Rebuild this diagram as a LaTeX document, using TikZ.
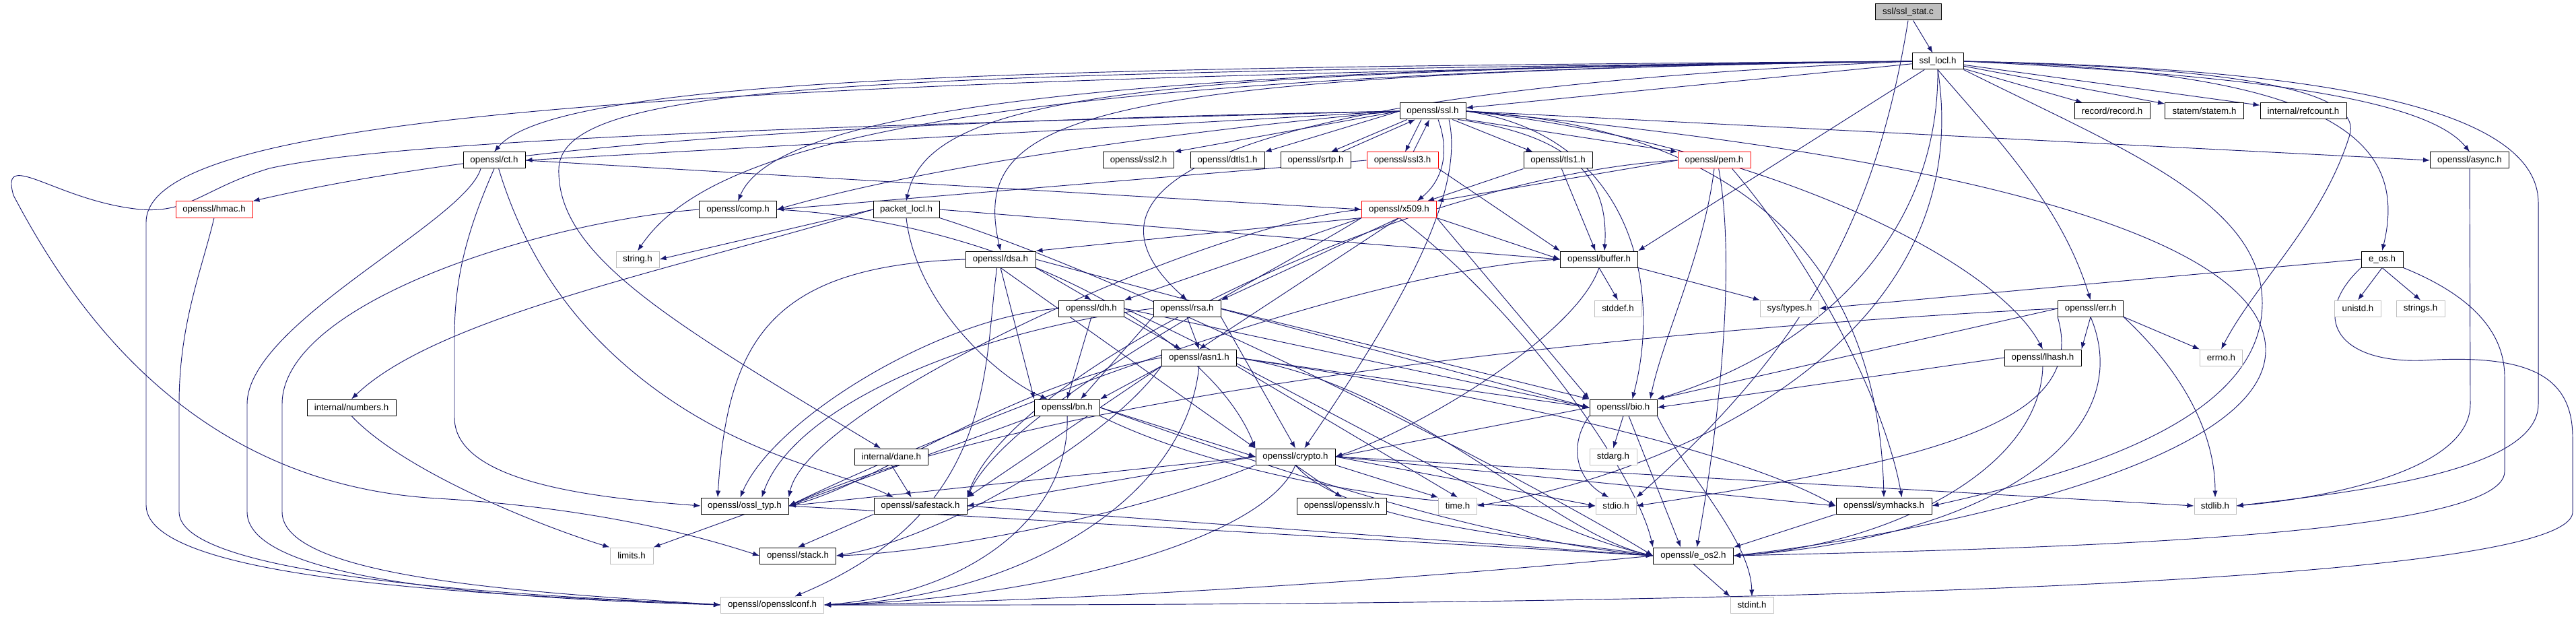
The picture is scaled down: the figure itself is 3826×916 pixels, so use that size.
\documentclass[tikz,border=0pt]{standalone}
\usepackage{fontspec}
\setmainfont{Liberation Sans}
\usetikzlibrary{arrows.meta}
\definecolor{navy}{HTML}{191970}
\definecolor{grayb}{HTML}{BFBFBF}
\pgfdeclarelayer{bg}
\pgfsetlayers{bg,main}
\newcommand{\Nd}[6]{\node[nd,#5,minimum width=#4*0.75pt] (#1) at (#2,#3) {#6};}
\begin{document}
\begin{tikzpicture}[x=0.75pt,y=-0.75pt,
 nd/.style={draw=black,fill=white,line width=0.75pt,minimum height=18pt,inner sep=0pt,font=\fontsize{10}{12}\selectfont},
 gr/.style={draw=grayb},
 rd/.style={draw=red},
 edg/.style={draw=navy,line width=0.7pt,-{Latex[length=7.5pt,width=5.5pt]}}]
\useasboundingbox (0,0) rectangle (3826,916);
\Nd{root}{2834}{18}{98}{fill=grayb}{ssl/ssl\_stat.c}
\Nd{locl}{2878}{91}{76}{}{ssl\_locl.h}
\Nd{ssl}{2128}{165}{98}{}{openssl/ssl.h}
\Nd{record}{3137}{165}{112}{}{record/record.h}
\Nd{statem}{3274}{165}{117}{}{statem/statem.h}
\Nd{refcount}{3421}{165}{128}{}{internal/refcount.h}
\Nd{ct}{734}{238}{92}{}{openssl/ct.h}
\Nd{ssl2}{1691}{238}{105}{}{openssl/ssl2.h}
\Nd{dtls1}{1823}{238}{110}{}{openssl/dtls1.h}
\Nd{srtp}{1954}{238}{104}{}{openssl/srtp.h}
\Nd{ssl3}{2083}{238}{106}{rd}{openssl/ssl3.h}
\Nd{tls1}{2314}{238}{102}{}{openssl/tls1.h}
\Nd{pem}{2546}{238}{108}{rd}{openssl/pem.h}
\Nd{async}{3668}{238}{117}{}{openssl/async.h}
\Nd{hmac}{318}{311}{114}{rd}{openssl/hmac.h}
\Nd{comp}{1096}{311}{115}{}{openssl/comp.h}
\Nd{packet}{1346}{311}{98}{}{packet\_locl.h}
\Nd{x509}{2078}{311}{111}{rd}{openssl/x509.h}
\Nd{string}{947}{385}{64}{gr}{string.h}
\Nd{dsa}{1486}{385}{104}{}{openssl/dsa.h}
\Nd{buffer}{2375}{385}{115}{}{openssl/buffer.h}
\Nd{eos}{3538}{385}{62}{}{e\_os.h}
\Nd{dh}{1621}{458}{97}{}{openssl/dh.h}
\Nd{rsa}{1763}{458}{100}{}{openssl/rsa.h}
\Nd{stddef}{2403}{458}{69}{gr}{stddef.h}
\Nd{systypes}{2658}{458}{87}{gr}{sys/types.h}
\Nd{err}{3105}{458}{97}{}{openssl/err.h}
\Nd{unistd}{3502}{458}{69}{gr}{unistd.h}
\Nd{strings}{3595}{458}{72}{gr}{strings.h}
\Nd{numbers}{522}{605}{132}{}{internal/numbers.h}
\Nd{asn1}{1781}{531}{111}{}{openssl/asn1.h}
\Nd{lhash}{3034}{531}{114}{}{openssl/lhash.h}
\Nd{errno}{3299}{531}{63}{gr}{errno.h}
\Nd{bn}{1585}{605}{97}{}{openssl/bn.h}
\Nd{bio}{2411}{605}{100}{}{openssl/bio.h}
\Nd{dane}{1324}{678}{109}{}{internal/dane.h}
\Nd{crypto}{1924}{678}{118}{}{openssl/crypto.h}
\Nd{stdarg}{2396}{678}{70}{gr}{stdarg.h}
\Nd{ossltyp}{1106}{751}{130}{}{openssl/ossl\_typ.h}
\Nd{safestack}{1367}{751}{138}{}{openssl/safestack.h}
\Nd{opensslv}{1993}{751}{133}{}{openssl/opensslv.h}
\Nd{time}{2165}{751}{57}{gr}{time.h}
\Nd{stdio}{2400}{751}{60}{gr}{stdio.h}
\Nd{symhacks}{2798}{751}{142}{}{openssl/symhacks.h}
\Nd{stdlib}{3290}{751}{62}{gr}{stdlib.h}
\Nd{limits}{938}{825}{64}{gr}{limits.h}
\Nd{stack}{1185}{825}{113}{}{openssl/stack.h}
\Nd{eos2}{2515}{825}{119}{}{openssl/e\_os2.h}
\Nd{conf}{1147}{898}{153}{gr}{openssl/opensslconf.h}
\Nd{stdint}{2602}{898}{64}{gr}{stdint.h}
\begin{pgfonlayer}{bg}
\fill[white] (0,0) rectangle (3826,916);
% root
\draw[edg] (root) -- (locl);
\draw[edg] (root.south) .. controls (2790,300) and (2700,500) .. (stdio.north east);
% ssl_locl
\draw[edg] (locl) -- (record);
\draw[edg] (locl) -- (statem);
\draw[edg] (locl) -- (refcount);
\draw[edg] (locl) -- (ssl);
\draw[edg] (locl.east) .. controls (3300,110) and (3600,140) .. (async.north);
\draw[edg] (locl.east) .. controls (3450,105) and (3580,200) .. (eos.north);
\draw[edg] (locl.east) .. controls (3400,100) and (3768,150) .. (3770,300) -- (3770,600) .. controls (3770,700) and (3500,730) .. (stdlib.east);
\draw[edg] (locl.east) .. controls (3300,100) and (3510,130) .. (3490,200) .. controls (3450,330) and (3350,420) .. (errno.north);
\draw[edg] (locl.south east) .. controls (3150,220) and (3360,300) .. (3360,450) .. controls (3360,620) and (3100,700) .. (symhacks.east);
\draw[edg] (locl.south) .. controls (2960,200) and (3060,300) .. (err.north);
\draw[edg] (locl.south) .. controls (2880,350) and (2700,520) .. (bio.north east);
\draw[edg] (locl.south) .. controls (2940,500) and (2500,700) .. (time.east);
\draw[edg] (locl) -- (buffer.north east);
\draw[edg] (locl.west) .. controls (1600,100) and (1150,170) .. (comp.north);
\draw[edg] (locl.west) .. controls (1700,105) and (1380,140) .. (packet.north);
\draw[edg] (locl.west) .. controls (1600,110) and (1440,170) .. (dsa.north);
\draw[edg] (locl.west) .. controls (1700,140) and (1600,300) .. (rsa.north);
\draw[edg] (locl.west) .. controls (1400,110) and (1050,220) .. (string.north);
\draw[edg] (locl.west) .. controls (1600,100) and (830,110) .. (ct.north);
\draw[edg] (locl.west) .. controls (1000,120) and (217,170) .. (217,330) -- (217,750) .. controls (217,870) and (800,885) .. (conf.west);
\draw[edg] (locl.west) .. controls (1300,110) and (835,120) .. (830,250) .. controls (826,380) and (1000,480) .. ([xshift=-12pt]dane.north);
% ssl.h
\draw[edg] (ssl.west) -- (ssl2.north east);
\draw[edg] (ssl.west) -- (dtls1.north east);
\draw[edg] ([xshift=-28.5pt]ssl.south) -- ([xshift=17pt]srtp.north);
\draw[edg] ([xshift=29pt]srtp.north) -- ([xshift=-19.5pt]ssl.south);
\draw[edg] ([xshift=-12.75pt]ssl.south) -- ([xshift=3pt]ssl3.north);
\draw[edg] ([xshift=12pt]ssl3.north) -- ([xshift=-3.75pt]ssl.south);
\draw[edg] ([xshift=22pt]ssl.south) -- ([xshift=-28pt]tls1.north);
\draw[edg] (ssl.south east) -- (pem.north west);
\draw[edg] ([xshift=6pt]ssl.south) .. controls (2155,230) and (2140,270) .. ([xshift=20pt]x509.north);
\draw[edg] ([xshift=28pt]ssl.south) .. controls (2330,200) and (2390,260) .. ([xshift=6pt]buffer.north);
\draw[edg] ([xshift=18pt]ssl.south) .. controls (2180,300) and (2050,500) .. ([xshift=10pt]crypto.north);
\draw[edg] (ssl.east) .. controls (2420,200) and (2470,420) .. ([xshift=10pt]bio.north);
\draw[edg] (ssl.east) .. controls (2600,190) and (2790,400) .. (symhacks.north);
\draw[edg] (ssl.east) .. controls (2900,230) and (3365,350) .. (3365,520) .. controls (3365,700) and (2800,800) .. (eos2.east);
\draw[edg] (ssl.east) .. controls (2600,210) and (2960,380) .. (lhash.north);
\draw[edg] (ssl.east) -- (async.west);
\draw[edg] (ssl.west) .. controls (1300,180) and (760,210) .. (hmac.north east);
\draw[edg] (ssl.west) -- (ct.east);
\draw[edg] (ssl.west) .. controls (1800,190) and (1400,240) .. (comp.east);
\draw[edg] (ssl.west) .. controls (1300,185) and (600,205) .. (400,250) .. controls (300,280) and (280,320) .. (200,310) .. controls (80,295) and (0,220) .. (20,290) .. controls (120,480) and (300,720) .. (650,740) .. controls (900,755) and (1050,800) .. (stack.west);
% ssl3, tls1
\draw[edg] (ssl3.west) -- (comp.east);
\draw[edg] (ssl3.south east) -- (buffer.north west);
\draw[edg] (tls1.south west) -- ([xshift=31.5pt]x509.north);
\draw[edg] ([xshift=4pt]tls1.south) -- ([xshift=-4pt]buffer.north);
% pem
\draw[edg] (pem.west) -- (x509.north east);
\draw[edg] (pem.south) .. controls (2530,380) and (2470,500) .. ([xshift=30pt]bio.north);
\draw[edg] ([xshift=5pt]pem.south) .. controls (2580,400) and (2550,650) .. ([xshift=4pt]eos2.north);
\draw[edg] ([xshift=20pt]pem.south) .. controls (2700,400) and (2800,600) .. ([xshift=20pt]symhacks.north);
\draw[edg] (pem.west) .. controls (2100,260) and (1500,550) .. (safestack.north east);
% ct
\draw[edg] (ct.east) -- (x509.west);
\draw[edg] ([xshift=-15pt]ct.south) .. controls (690,330) and (367,480) .. (367,600) -- (367,760) .. controls (367,870) and (800,890) .. (conf.west);
\draw[edg] (ct.south) .. controls (690,350) and (675,420) .. (675,500) -- (675,620) .. controls (675,720) and (900,740) .. (ossltyp.west);
\draw[edg] ([xshift=5pt]ct.south) .. controls (780,380) and (850,480) .. (950,560) .. controls (1100,680) and (1250,700) .. ([xshift=-30pt]safestack.north);
% hmac, comp, packet
\draw[edg] (hmac.south) .. controls (300,400) and (266,480) .. (266,600) -- (266,760) .. controls (266,860) and (800,885) .. (conf.west);
\draw[edg] (comp.west) .. controls (800,330) and (419,450) .. (419,600) -- (419,760) .. controls (419,860) and (800,880) .. (conf.west);
\draw[edg] (comp.east) .. controls (1500,330) and (1800,500) .. (crypto.north west);
\draw[edg] (packet.west) -- (string.east);
\draw[edg] (packet.west) .. controls (1000,400) and (650,470) .. (numbers.north);
\draw[edg] (packet.east) -- (buffer.west);
\draw[edg] (packet.south) .. controls (1360,450) and (1480,560) .. ([xshift=-22pt]bn.north);
\draw[edg] (packet.south east) .. controls (1700,420) and (2250,700) .. (eos2.west);
% x509
\draw[edg] (x509.south east) -- (buffer.west);
\draw[edg] (x509.south west) -- (dsa.north east);
\draw[edg] (x509.south west) -- (dh.north east);
\draw[edg] (x509.south) -- (rsa.north east);
\draw[edg] (x509.south) -- (asn1.north);
\draw[edg] (x509.south east) -- (bio.north west);
\draw[edg] (x509.south) .. controls (2250,450) and (2430,700) .. (eos2.north west);
\draw[edg] (x509.west) .. controls (1800,330) and (1200,600) .. (ossltyp.north east);
\draw[edg] (x509.south west) .. controls (1900,400) and (1500,600) .. (safestack.north east);
% dsa
\draw[edg] (dsa.south east) -- (dh.north);
\draw[edg] (dsa.south) -- (bn.north west);
\draw[edg] (dsa.south) -- (crypto.north west);
\draw[edg] (dsa.west) .. controls (1150,395) and (1080,500) .. ([xshift=-30pt]ossltyp.north);
\draw[edg] (dsa.east) -- (bio.west);
\draw[edg] ([xshift=-4pt]dsa.south) .. controls (1460,550) and (1480,760) .. ([xshift=25pt]conf.north);
% dh
\draw[edg] (dh.south east) -- ([xshift=-20pt]asn1.north);
\draw[edg] (dh.south) -- (bn.north);
\draw[edg] (dh.west) .. controls (1400,470) and (1150,620) .. ([xshift=-5pt]ossltyp.north);
\draw[edg] (dh.east) -- (bio.west);
\draw[edg] (dh.east) .. controls (1900,560) and (2250,780) .. (eos2.west);
% rsa
\draw[edg] (rsa.south) -- (asn1.north);
\draw[edg] (rsa.south west) -- ([xshift=15pt]bn.north);
\draw[edg] (rsa.west) .. controls (1450,490) and (1180,600) .. ([xshift=19pt]ossltyp.north);
\draw[edg] (rsa.east) -- (bio.north west);
\draw[edg] (rsa.south east) -- (crypto.north);
% asn1
\draw[edg] (asn1.south east) -- (time.north);
\draw[edg] (asn1.east) .. controls (2100,570) and (2300,790) .. (eos2.west);
\draw[edg] (asn1.east) -- (bio.west);
\draw[edg] (asn1.south west) -- (safestack.north east);
\draw[edg] (asn1.east) .. controls (2300,600) and (2600,680) .. (symhacks.west);
\draw[edg] (asn1.west) .. controls (1500,570) and (1300,720) .. (ossltyp.east);
\draw[edg] (asn1.south west) -- (bn.north east);
\draw[edg] (asn1.south) .. controls (1760,750) and (1500,890) .. (conf.east);
\draw[edg] (asn1.south west) .. controls (1650,650) and (1400,800) .. (stack.east);
% bn
\draw[edg] (bn.east) -- (crypto.west);
\draw[edg] (bn.south east) .. controls (1800,700) and (2100,760) .. (stdio.west);
\draw[edg] (bn.east) .. controls (1900,700) and (2200,800) .. (eos2.west);
\draw[edg] (bn.south west) -- (ossltyp.east);
\draw[edg] (bn.south) .. controls (1590,760) and (1450,880) .. (conf.east);
% bio
\draw[edg] (bio.west) -- (crypto.east);
\draw[edg] (bio.south) -- (stdarg.north);
\draw[edg] (bio.south west) .. controls (2330,660) and (2340,710) .. ([xshift=-8pt]stdio.north);
\draw[edg] ([xshift=6pt]bio.south) -- ([xshift=-14pt]eos2.north);
\draw[edg] (bio.south east) .. controls (2500,700) and (2600,800) .. (stdint.north);
% lhash, err
\draw[edg] (lhash.west) -- (bio.east);
\draw[edg] (lhash.south) .. controls (3030,700) and (2800,810) .. (eos2.east);
\draw[edg] (err.south) -- (lhash.north east);
\draw[edg] (err.south east) -- (errno.north west);
\draw[edg] (err.south east) .. controls (3250,560) and (3290,650) .. (stdlib.north);
\draw[edg] (err.west) -- (bio.north east);
\draw[edg] (err.south) .. controls (3180,650) and (2950,800) .. (eos2.east);
\draw[edg] (err.south west) .. controls (3100,620) and (2900,680) .. (stdio.east);
\draw[edg] (err.west) .. controls (2600,480) and (1600,560) .. (ossltyp.east);
% crypto
\draw[edg] (crypto.south) -- (opensslv.north);
\draw[edg] (crypto.south east) -- (time.north west);
\draw[edg] (crypto.east) -- (stdio.west);
\draw[edg] (crypto.east) -- (symhacks.west);
\draw[edg] (crypto.south) .. controls (2000,780) and (2300,800) .. (eos2.west);
\draw[edg] (crypto.east) -- (stdlib.west);
\draw[edg] (crypto.west) -- (safestack.east);
\draw[edg] (crypto.west) -- (ossltyp.east);
\draw[edg] (crypto.south west) .. controls (1700,760) and (1400,820) .. (stack.east);
\draw[edg] (crypto.south) .. controls (1880,800) and (1550,890) .. (conf.east);
% misc
\draw[edg] (ossltyp.south) -- (limits.north east);
\draw[edg] (ossltyp.east) -- (eos2.west);
\draw[edg] (safestack.south west) -- (stack.north);
\draw[edg] (safestack.east) -- (eos2.west);
\draw[edg] (dane.south) -- ([xshift=-10pt]safestack.north);
\draw[edg] (numbers.south) .. controls (600,700) and (800,780) .. (limits.north west);
\draw[edg] (symhacks.south west) -- (eos2.north east);
\draw[edg] (eos2.south) -- (stdint.north west);
\draw[edg] (eos2.west) .. controls (2000,870) and (1500,895) .. (conf.east);
\draw[edg] (async.south) -- (3669,600) .. controls (3669,700) and (3450,740) .. (stdlib.east);
\draw[edg] (eos.west) -- (systypes.east);
\draw[edg] (eos.south) -- (unistd.north);
\draw[edg] (eos.south) -- (strings.north);
\draw[edg] (eos.south west) .. controls (3430,470) and (3470,540) .. (3600,535) .. controls (3760,525) and (3821,560) .. (3821,650) -- (3821,760) .. controls (3821,880) and (2300,900) .. (conf.east);
\draw[edg] (eos.south east) .. controls (3650,430) and (3720,480) .. (3720,560) -- (3720,700) .. controls (3720,800) and (3000,815) .. (eos2.east);
\draw[edg] (buffer.south) -- (stddef.north);
\draw[edg] (buffer.south east) -- (systypes.north west);
\draw[edg] (buffer.south) .. controls (2340,500) and (2100,640) .. (crypto.east);
\draw[edg] (buffer.west) .. controls (2000,400) and (1400,640) .. (ossltyp.east);
\end{pgfonlayer}
\end{tikzpicture}
\end{document}
